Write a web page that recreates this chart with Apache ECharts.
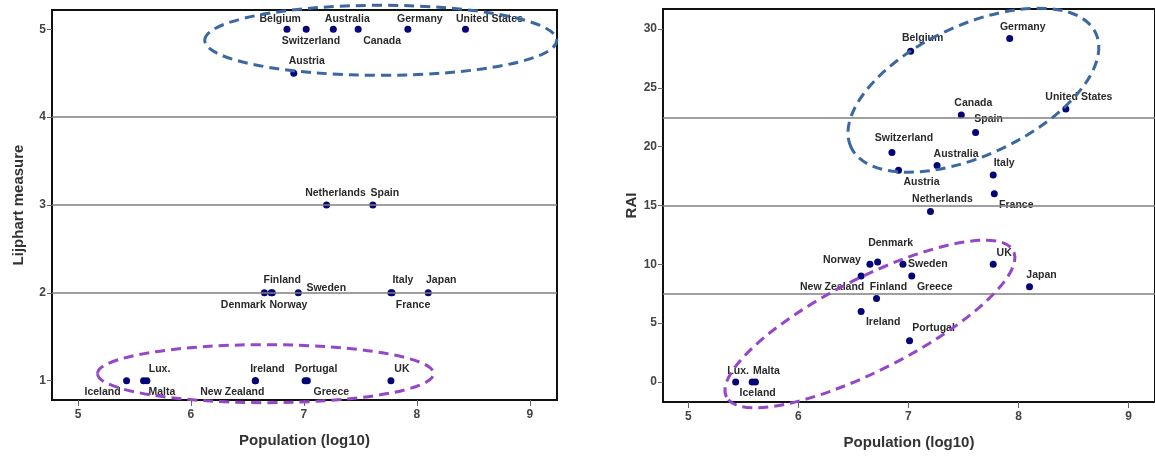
<!DOCTYPE html>
<html lang="en">
<head>
<meta charset="UTF-8">
<title>Population vs Lijphart measure and RAI</title>
<script src="https://cdn.jsdelivr.net/npm/echarts@6/dist/echarts.min.js"></script>
<style>
  html, body { margin: 0; padding: 0; background: #fff; }
  #chart { width: 1155px; height: 461px; }
</style>
</head>
<body>
<div id="chart"></div>
<script>
// data
var countries = ['Belgium', 'Switzerland', 'Australia', 'Canada', 'Germany', 'United States', 'Austria',
    'Netherlands', 'Spain', 'Denmark', 'Finland', 'Norway', 'Sweden', 'Italy', 'France', 'Japan',
    'Iceland', 'Lux.', 'Malta', 'New Zealand', 'Ireland', 'Portugal', 'Greece', 'UK'];
var population = [7.02, 6.85, 7.26, 7.48, 7.92, 8.43, 6.91, 7.20, 7.61, 6.72, 6.71, 6.65, 6.95, 7.77, 7.78, 8.10,
    5.43, 5.58, 5.61, 6.57, 6.57, 7.01, 7.03, 7.77];
var lijphart = [5, 5, 5, 5, 5, 5, 4.5, 3, 3, 2, 2, 2, 2, 2, 2, 2, 1, 1, 1, 1, 1, 1, 1, 1];
var rai = [28.1, 19.5, 18.4, 22.7, 29.2, 23.2, 18.0, 14.5, 21.2, 10.2, 7.1, 10.0, 10.0, 17.6, 16.0, 8.1,
    0, 0, 0, 9.0, 6.0, 3.5, 9.0, 10.0];
var xTicks = [5, 6, 7, 8, 9];
var lijphartTicks = [1, 2, 3, 4, 5];
var raiTicks = [0, 5, 10, 15, 20, 25, 30];
var lijphartRefs = [2, 3, 4];
var raiRefs = [7.5, 15, 22.5];

// label placement (pixels, relative to the dot)
var leftOffsets = {
    'Belgium': [-26, -10], 'Switzerland': [24, 12], 'Australia': [14, -10], 'Canada': [24, 12],
    'Germany': [12, -10], 'United States': [24, -10], 'Austria': [13, -12], 'Netherlands': [9, -12],
    'Spain': [12, -12], 'Finland': [11, -13], 'Denmark': [-29, 12], 'Norway': [24, 12],
    'Sweden': [28, -5], 'Italy': [12, -13], 'France': [21, 12], 'Japan': [13, -13],
    'Iceland': [-24, 11], 'Lux.': [16, -12], 'Malta': [15, 11], 'New Zealand': [-23, 11],
    'Ireland': [12, -12], 'Portugal': [11, -12], 'Greece': [24, 11], 'UK': [11, -12]
};
var rightOffsets = {
    'Belgium': [12, -13], 'Switzerland': [12, -14], 'Australia': [19, -11], 'Canada': [12, -12],
    'Germany': [13, -11], 'United States': [13, -12], 'Austria': [23, 12], 'Netherlands': [12, -12],
    'Spain': [13, -13], 'Denmark': [13, -19], 'Finland': [12, -11], 'Norway': [-28, -4],
    'Sweden': [25, 0], 'Italy': [11, -12], 'France': [22, 11], 'Japan': [12, -12],
    'Iceland': [22, 11], 'Lux.': [-14, -11], 'Malta': [11, -11], 'New Zealand': [-29, 11],
    'Ireland': [22, 11], 'Portugal': [24, -13], 'Greece': [23, 11], 'UK': [11, -11]
};

// dashed ellipses: centre in data units, radii / tilt in pixels
var ellipses = [
    { grid: 0, center: [7.68, 4.875], rx: 176, ry: 35, tilt: 0, color: '#3b68a0' },
    { grid: 0, center: [6.66, 1.08], rx: 168, ry: 29, tilt: 0, color: '#9448c8' },
    { grid: 1, center: [7.59, 24.8], rx: 135, ry: 65, tilt: 25, color: '#3b68a0' },
    { grid: 1, center: [6.65, 4.93], rx: 161, ry: 46, tilt: 27, color: '#9448c8' }
];

var labelFont = 'Liberation Sans Narrow, Liberation Sans, Arial, sans-serif';

function buildPoints(yValues, offsets) {
    var pts = [];
    for (var i = 0; i < countries.length; i++) {
        pts.push({
            name: countries[i],
            value: [population[i], yValues[i]],
            label: { offset: offsets[countries[i]] }
        });
    }
    return pts;
}

function axisX(gridIndex) {
    return {
        type: 'value', gridIndex: gridIndex, min: 4.77, max: 9.24,
        name: 'Population (log10)', nameLocation: 'middle', nameGap: 33,
        nameTextStyle: { fontSize: 15, fontWeight: 'bold', color: '#333', fontFamily: 'Liberation Sans, Arial, sans-serif' },
        axisLine: { show: true, onZero: false, lineStyle: { color: '#111', width: 2 } },
        axisTick: { show: true, length: 6, customValues: xTicks, lineStyle: { color: '#666' } },
        axisLabel: { customValues: xTicks, fontSize: 12, fontWeight: 'bold', color: '#444', margin: 9 },
        splitLine: { show: false }
    };
}

function axisY(gridIndex, name, min, max, ticks, gap) {
    return {
        type: 'value', gridIndex: gridIndex, min: min, max: max,
        name: name, nameLocation: 'middle', nameGap: gap,
        nameTextStyle: { fontSize: 15, fontWeight: 'bold', color: '#333', fontFamily: 'Liberation Sans, Arial, sans-serif' },
        axisLine: { show: true, onZero: false, lineStyle: { color: '#111', width: 2 } },
        axisTick: { show: true, length: 5, customValues: ticks, lineStyle: { color: '#666' } },
        axisLabel: { customValues: ticks, fontSize: 12, fontWeight: 'bold', color: '#444', margin: 6 },
        splitLine: { show: false }
    };
}

function scatter(index, yValues, offsets, refs) {
    var lines = [];
    for (var i = 0; i < refs.length; i++) lines.push({ yAxis: refs[i] });
    return {
        type: 'scatter', xAxisIndex: index, yAxisIndex: index,
        symbol: 'circle', symbolSize: 7,
        itemStyle: { color: '#05057a', opacity: 1 },
        label: {
            show: true, position: 'inside', formatter: '{b}',
            fontSize: 10.5, fontWeight: 'bold', color: '#2a2a2a', fontFamily: labelFont
        },
        data: buildPoints(yValues, offsets),
        markLine: {
            silent: true, symbol: 'none', animation: false,
            label: { show: false },
            lineStyle: { color: '#7f7f7f', width: 1.5, type: 'solid' },
            data: lines
        },
        z: 3
    };
}

var chart = echarts.init(document.getElementById('chart'));
chart.setOption({
    animation: false,
    grid: [
        { left: 52, top: 10, width: 505, bottom: 61, show: true, borderColor: '#111', borderWidth: 2 },
        { left: 663, top: 9, right: -4, bottom: 59, show: true, borderColor: '#111', borderWidth: 2 }
    ],
    xAxis: [axisX(0), axisX(1)],
    yAxis: [
        axisY(0, 'Lijphart measure', 0.78, 5.22, lijphartTicks, 26),
        axisY(1, 'RAI', -1.7, 31.7, raiTicks, 24)
    ],
    series: [
        scatter(0, lijphart, leftOffsets, lijphartRefs),
        scatter(1, rai, rightOffsets, raiRefs)
    ]
});

var shapes = [];
ellipses.forEach(function (e) {
    var p = chart.convertToPixel({ gridIndex: e.grid }, e.center);
    shapes.push({
        type: 'ellipse', x: p[0], y: p[1], rotation: e.tilt * Math.PI / 180,
        shape: { cx: 0, cy: 0, rx: e.rx, ry: e.ry },
        style: { fill: null, stroke: e.color, lineWidth: 3, lineDash: [10, 6] },
        silent: true, z: 10
    });
});
chart.setOption({ graphic: shapes });
</script>
</body>
</html>
